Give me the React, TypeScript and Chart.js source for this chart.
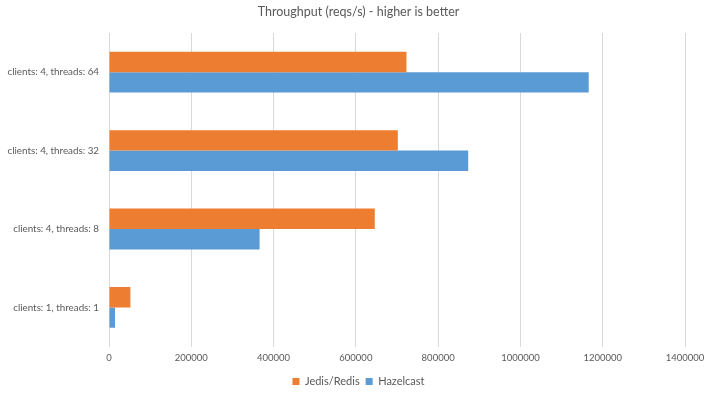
import React, { useEffect, useRef } from "react";
import { Chart, registerables } from "chart.js";

Chart.register(...registerables);

const categories = [
  "clients: 4, threads: 64",
  "clients: 4, threads: 32",
  "clients: 4, threads: 8",
  "clients: 1, threads: 1",
];
const jedisRedis = [723000, 702000, 646000, 52000];
const hazelcast = [1166000, 873000, 366000, 14600];
const seriesNames = ["Jedis/Redis", "Hazelcast"];
const xMax = 1400000;
const xStep = 200000;

const FONT = "Lato, 'Noto Sans', sans-serif";
const TEXT = "#595959";

export default function App() {
  const ref = useRef<HTMLCanvasElement | null>(null);
  useEffect(() => {
    if (!ref.current) return;
    const chart = new Chart(ref.current, {
      type: "bar",
      data: {
        labels: categories,
        datasets: [
          {
            label: seriesNames[0],
            data: jedisRedis,
            backgroundColor: "#ED7D31",
            categoryPercentage: 0.52,
            barPercentage: 1,
          },
          {
            label: seriesNames[1],
            data: hazelcast,
            backgroundColor: "#5B9BD5",
            categoryPercentage: 0.52,
            barPercentage: 1,
          },
        ],
      },
      options: {
        indexAxis: "y",
        animation: false,
        responsive: false,
        maintainAspectRatio: false,
        layout: { padding: { left: 0, right: 0, top: 0, bottom: -1 } },
        plugins: {
          title: {
            display: true,
            text: "Throughput (reqs/s) - higher is better",
            color: TEXT,
            font: { family: FONT, size: 12.5, weight: "normal" },
            padding: { top: 4, bottom: 14 },
          },
          legend: {
            position: "bottom",
            labels: {
              color: TEXT,
              font: { family: FONT, size: 11 },
              boxWidth: 7,
              boxHeight: 7,
              padding: 6,
            },
          },
          tooltip: { enabled: false },
        },
        scales: {
          x: {
            min: 0,
            max: xMax,
            ticks: {
              stepSize: xStep,
              color: TEXT,
              font: { family: FONT, size: 9.5 },
              padding: 6,
              maxRotation: 0,
              callback: (v: any) => String(v),
            },
            grid: { color: "#d9d9d9", drawTicks: false },
            border: { display: false },
            afterFit: (s: any) => {
              s.paddingRight = 32;
              s.paddingLeft = 0;
            },
          },
          y: {
            ticks: {
              color: TEXT,
              font: { family: FONT, size: 9.8 },
              padding: 10,
            },
            grid: { display: false, drawTicks: false },
            border: { display: false },
            afterFit: (s: any) => {
              s.width = 109;
            },
          },
        },
      },
    });
    return () => chart.destroy();
  }, []);
  return (
    <div style={{ position: "fixed", left: 0, top: 0, width: 717, height: 396, background: "#fff" }}>
      <canvas ref={ref} width={717} height={396} style={{ width: 717, height: 396 }} />
    </div>
  );
}
